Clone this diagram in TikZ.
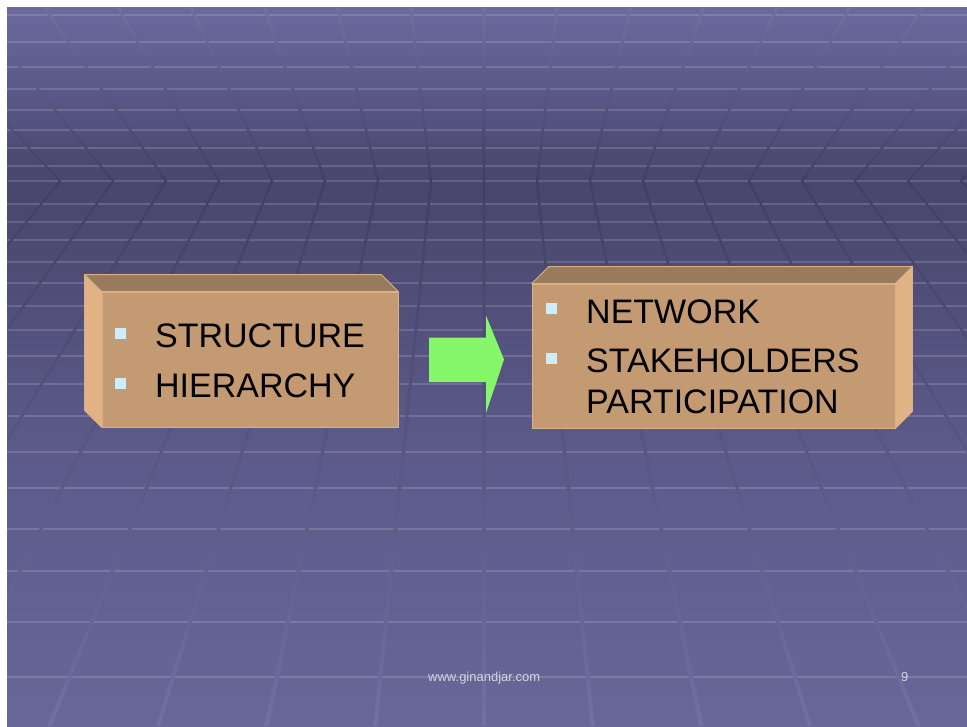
\documentclass[tikz,border=0pt]{standalone}
\usepackage{fontspec}
\setmainfont{Liberation Sans}
\usetikzlibrary{positioning}

\definecolor{skytop}{RGB}{106,106,158}
\definecolor{skymid}{RGB}{88,86,134}
\definecolor{horizon}{RGB}{72,70,108}
\definecolor{floormid}{RGB}{92,90,138}
\definecolor{floorbot}{RGB}{103,103,152}
\definecolor{railtop}{RGB}{112,112,162}
\definecolor{railmid}{RGB}{64,62,98}
\definecolor{railbot}{RGB}{112,112,162}
\definecolor{boxfront}{RGB}{196,154,114}
\definecolor{boxtop}{RGB}{152,122,92}
\definecolor{boxside}{RGB}{224,178,132}
\definecolor{boxedge}{RGB}{218,176,134}
\definecolor{bulletblue}{RGB}{206,236,252}
\definecolor{arrowgreen}{RGB}{134,246,106}
\definecolor{footgray}{RGB}{214,214,224}

\tikzset{
  frontface/.style={rectangle, fill=boxfront, draw=boxedge, line width=0.8pt, inner sep=0pt},
  topface/.style={fill=boxtop, draw=boxedge, line width=0.8pt, line join=round},
  sideface/.style={fill=boxside, draw=boxedge, line width=0.8pt, line join=round},
  bulletbox/.style={rectangle, fill=bulletblue, minimum size=11pt, inner sep=0pt},
  itemtext/.style={anchor=base west, inner sep=0pt, font=\fontsize{34}{40}\selectfont},
  foottext/.style={anchor=base west, inner sep=0pt, text=footgray, font=\fontsize{13}{15}\selectfont}
}

\begin{document}
\begin{tikzpicture}[x=1pt, y=-1pt]
  \useasboundingbox (0,0) rectangle (967,726);
  \fill[white] (0,0) rectangle (967,726);

  % Background: ceiling and floor
  \begin{scope}
    \clip (7,7) rectangle (967,726);
    \shade[top color=skytop, bottom color=skymid] (7,7) rectangle (967,100);
    \shade[top color=skymid, bottom color=horizon] (7,100) rectangle (967,181);
    \shade[top color=horizon, bottom color=floormid] (7,181) rectangle (967,450);
    \shade[top color=floormid, bottom color=floorbot] (7,450) rectangle (967,726);

    % Horizontal grid lines
    \foreach \y in {15,42,67,89,110,130,148,166,181,204,222,240,262,283,306,330,356,384,416,452,488,529,571,622,677}
      \draw[white, opacity=0.15, line width=2pt] (7,\y) -- (967,\y);

    % Perspective lines, bent at the horizon
    \foreach \k in {-11,...,11}{
      \pgfmathsetmacro\xh{484+53*\k}
      \pgfmathsetmacro\xt{484+53*\k*1.383}
      \pgfmathsetmacro\xb{484+53*\k*2.05}
      \shade[top color=railtop, bottom color=railmid]
        (\xt-1.7,7) -- (\xt+1.7,7) -- (\xh+1.2,181) -- (\xh-1.2,181) -- cycle;
      \shade[top color=railmid, bottom color=railbot]
        (\xh-1.2,181) -- (\xh+1.2,181) -- (\xb+2.2,726) -- (\xb-2.2,726) -- cycle;
    }
  \end{scope}

  % Left box
  \node[frontface, minimum width=296pt, minimum height=135pt] (oldbox) at (250,359.5) {};
  \filldraw[topface] (oldbox.north west) -- ++(-17,-17) -- ([shift={(-17,-17)}]oldbox.north east) -- (oldbox.north east) -- cycle;
  \filldraw[sideface] (oldbox.north west) -- ++(-17,-17) -- ([shift={(-17,-17)}]oldbox.south west) -- (oldbox.south west) -- cycle;
  \node[bulletbox] (oldbul1) at (120.5,333) {};
  \node[bulletbox] (oldbul2) at (120.5,383) {};
  \node[itemtext] (structure) at (155,347) {STRUCTURE};
  \node[itemtext] (hierarchy) at (155,397) {HIERARCHY};

  % Right box
  \node[frontface, minimum width=363pt, minimum height=144pt] (newbox) at (713.5,356) {};
  \filldraw[topface] (newbox.north west) -- ++(17,-17) -- ([shift={(17,-17)}]newbox.north east) -- (newbox.north east) -- cycle;
  \filldraw[sideface] (newbox.north east) -- ++(17,-17) -- ([shift={(17,-17)}]newbox.south east) -- (newbox.south east) -- cycle;
  \node[bulletbox] (newbul1) at (551.5,308) {};
  \node[bulletbox] (newbul2) at (551.5,358) {};
  \node[itemtext] (network) at (586,323) {NETWORK};
  \node[itemtext] (stakeholders) at (586,372) {STAKEHOLDERS};
  \node[itemtext] (participation) at (586,413) {PARTICIPATION};

  % Block arrow between the boxes
  \coordinate (arrowtail) at (429,359.5);
  \fill[arrowgreen] (arrowtail) ++(0,-22) -- ++(57,0) -- ++(0,-22) -- (504,359.5) -- (486,413) -- (486,382) -- (429,382) -- cycle;

  % Footer
  \node[foottext] (site) at (428,681) {www.ginandjar.com};
  \node[foottext] (pageno) at (901,681) {9};
\end{tikzpicture}
\end{document}
